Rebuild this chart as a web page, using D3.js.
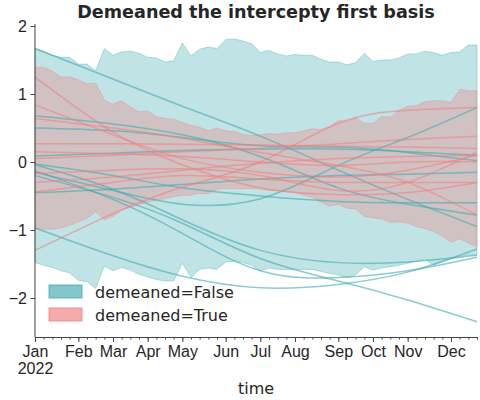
<!DOCTYPE html>
<html>
<head>
<meta charset="utf-8">
<script src="https://cdn.jsdelivr.net/npm/d3@7"></script>
<style>
  body { margin: 0; background: #fff; }
  svg { font-family: "DejaVu Sans", sans-serif; }
  .axis text { font-size: 16px; fill: #262626; }
  .axis path, .axis line { stroke: #444; stroke-width: 1; }
</style>
</head>
<body>
<svg id="chart" width="480" height="400"></svg>
<script>
// weekly x positions (0..51), month labels sit on first week of each month
var weeks = d3.range(52);
var monthWeeks = [0, 5, 9, 13, 17, 22, 26, 30, 35, 39, 43, 48];
var monthLabels = ["Jan", "Feb", "Mar", "Apr", "May", "Jun", "Jul", "Aug", "Sep", "Oct", "Nov", "Dec"];
var yTicks = [-2, -1, 0, 1, 2];

var groups = ["demeaned=False", "demeaned=True"];

var falseUpper = [1.67, 1.63, 1.57, 1.54, 1.54, 1.44, 1.44, 1.34, 1.67, 1.57, 1.62, 1.63, 1.60, 1.54, 1.53, 1.47, 1.49, 1.75, 1.56, 1.66, 1.69, 1.67, 1.80, 1.81, 1.78, 1.74, 1.61, 1.64, 1.59, 1.56, 1.58, 1.57, 1.57, 1.51, 1.47, 1.47, 1.43, 1.46, 1.60, 1.48, 1.50, 1.50, 1.53, 1.59, 1.59, 1.63, 1.61, 1.57, 1.61, 1.62, 1.72, 1.72];
var falseLower = [-1.48, -1.52, -1.55, -1.60, -1.63, -1.74, -1.76, -1.86, -1.53, -1.60, -1.55, -1.59, -1.65, -1.69, -1.73, -1.75, -1.75, -1.49, -1.70, -1.58, -1.56, -1.58, -1.47, -1.46, -1.48, -1.52, -1.60, -1.56, -1.58, -1.58, -1.58, -1.58, -1.58, -1.61, -1.64, -1.66, -1.70, -1.66, -1.54, -1.59, -1.56, -1.54, -1.52, -1.49, -1.46, -1.43, -1.52, -1.47, -1.42, -1.39, -1.37, -1.37];
var trueUpper = [1.40, 1.39, 1.34, 1.25, 1.25, 1.21, 1.15, 1.16, 0.91, 0.85, 0.90, 0.81, 0.74, 0.75, 0.67, 0.64, 0.63, 0.58, 0.54, 0.51, 0.46, 0.50, 0.46, 0.45, 0.41, 0.39, 0.40, 0.42, 0.41, 0.43, 0.43, 0.46, 0.49, 0.48, 0.52, 0.61, 0.60, 0.65, 0.57, 0.57, 0.67, 0.66, 0.76, 0.82, 0.83, 0.89, 0.90, 0.90, 0.88, 1.07, 1.05, 1.05];
var trueLower = [-0.99, -0.99, -0.99, -0.97, -0.93, -0.88, -0.83, -0.73, -0.85, -0.80, -0.71, -0.66, -0.63, -0.59, -0.56, -0.54, -0.51, -0.49, -0.49, -0.46, -0.47, -0.40, -0.39, -0.39, -0.39, -0.39, -0.40, -0.42, -0.42, -0.44, -0.45, -0.49, -0.52, -0.59, -0.65, -0.62, -0.68, -0.69, -0.80, -0.82, -0.84, -0.89, -0.88, -0.90, -0.95, -0.98, -1.02, -1.09, -1.18, -1.13, -1.19, -1.25];

// single curves, values read at these weeks
var knotWeeks = [0, 9, 17, 26, 35, 43, 51];
var falseCurves = [
  [1.67, 1.22, 0.82, 0.38, -0.12, -0.55, -0.95],
  [0.68, 0.56, 0.40, 0.08, -0.38, -0.62, -0.78],
  [0.50, 0.46, 0.36, 0.24, 0.22, 0.14, 0.02],
  [0.09, 0.13, 0.17, 0.19, 0.19, 0.15, 0.10],
  [-0.15, -0.42, -0.62, -0.54, -0.05, 0.36, 0.80],
  [-0.20, -0.52, -0.90, -1.42, -1.75, -2.03, -2.35],
  [-0.03, -0.20, -0.38, -0.50, -0.58, -0.60, -0.60],
  [-0.13, -0.55, -1.05, -1.60, -1.70, -1.60, -1.40],
  [-0.97, -1.38, -1.68, -1.85, -1.80, -1.62, -1.28],
  [-0.45, -0.40, -0.33, -0.25, -0.20, -0.18, -0.15],
  [-0.04, -0.40, -0.85, -1.30, -1.48, -1.47, -1.37]
];
var trueCurves = [
  [1.25, 0.44, -0.04, -0.38, -0.48, -0.45, -0.30],
  [0.84, 0.40, 0.05, -0.15, -0.22, -0.12, 0.10],
  [0.64, 0.50, 0.35, 0.14, -0.05, -0.30, -0.78],
  [0.27, 0.27, 0.26, 0.25, 0.23, 0.22, 0.20],
  [0.05, 0.10, 0.15, 0.20, 0.27, 0.33, 0.38],
  [-1.30, -0.76, -0.37, 0.00, 0.57, 0.76, 0.80],
  [-0.30, -0.22, -0.12, -0.02, 0.05, 0.08, 0.10],
  [-0.17, -0.12, -0.10, -0.20, -0.42, -0.30, 0.15],
  [0.15, 0.12, 0.08, 0.00, -0.05, 0.00, 0.00],
  [-0.44, -0.30, -0.20, -0.25, -0.30, -0.30, -0.30]
];

var colors = ["rgb(64,170,176)", "rgb(240,128,128)"];

var svg, x, y, xAxis, xMinor, yAxis, area, line, bands, curves, fmt;
svg = d3.select("#chart");

x = d3.scaleLinear().domain([0, 51]).range([35, 477]);
y = d3.scaleLinear().domain([-2.574, 2.03]).range([337, 24]);

area = d3.area()
  .x(function(d, i) { return x(weeks[i]); })
  .y0(function(d) { return y(d[0]); })
  .y1(function(d) { return y(d[1]); });

line = d3.line()
  .x(function(d, i) { return x(knotWeeks[i]); })
  .y(function(d) { return y(d); })
  .curve(d3.curveNatural);

bands = [
  d3.zip(falseLower, falseUpper),
  d3.zip(trueLower, trueUpper)
];
curves = [falseCurves, trueCurves];

var plot = svg.append("g");

bands.forEach(function(b, k) {
  plot.append("path").attr("d", area(b))
    .attr("fill", colors[k]).attr("fill-opacity", 0.33)
    .attr("stroke", colors[k]).attr("stroke-opacity", 0.35).attr("stroke-width", 1);
});

curves.forEach(function(set, k) {
  plot.selectAll("path.c" + k).data(set).enter().append("path")
    .attr("class", "c" + k)
    .attr("d", line)
    .attr("fill", "none")
    .attr("stroke", colors[k])
    .attr("stroke-opacity", k ? 0.6 : 0.6)
    .attr("stroke-width", 1.5);
});

fmt = function(d) { return d < 0 ? "\u2212" + Math.abs(d) : "" + d; };

yAxis = d3.axisLeft(y).tickValues(yTicks).tickSize(4.5).tickSizeOuter(0).tickPadding(3.5).tickFormat(fmt);
svg.append("g").attr("class", "y axis").attr("transform", "translate(35,0)").call(yAxis)
  .select(".domain").attr("d", "M0," + y.range()[0] + "V" + y.range()[1]);

xMinor = d3.axisBottom(x).tickValues(weeks).tickSize(2.5).tickSizeOuter(0).tickFormat("");
svg.append("g").attr("class", "x axis minor").attr("transform", "translate(0,337)").call(xMinor);

xAxis = d3.axisBottom(x).tickValues(monthWeeks).tickSize(5).tickSizeOuter(0).tickPadding(3.5)
  .tickFormat(function(d, i) { return monthLabels[i]; });
var xg = svg.append("g").attr("class", "x axis").attr("transform", "translate(0,337)").call(xAxis);
xg.select(".domain").remove();
xg.select(".tick text").append("tspan").attr("x", 0).attr("dy", "1.1em").text("2022");

svg.append("text").attr("x", 256).attr("y", 394).attr("text-anchor", "middle")
  .style("font-size", "16px").attr("fill", "#262626").text("time");

svg.append("text").attr("x", 256).attr("y", 18).attr("text-anchor", "middle")
  .style("font-size", "17.6px").style("font-weight", "bold").attr("fill", "#262626")
  .text("Demeaned the intercepty first basis");

var legend = svg.append("g").attr("transform", "translate(49,285)");
groups.forEach(function(g, k) {
  legend.append("rect").attr("x", 0).attr("y", k * 23).attr("width", 33).attr("height", 13)
    .attr("fill", colors[k]).attr("fill-opacity", 0.66)
    .attr("stroke", colors[k]).attr("stroke-opacity", 0.8);
  legend.append("text").attr("x", 46).attr("y", k * 23 + 12.5)
    .style("font-size", "16px").attr("fill", "#262626").text(g);
});
</script>
</body>
</html>
